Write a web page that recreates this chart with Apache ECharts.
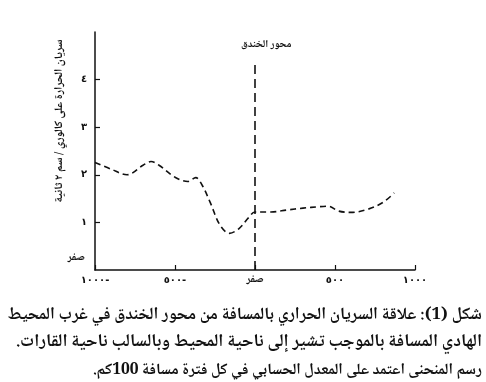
<!DOCTYPE html>
<html>
<head>
<meta charset="utf-8">
<script src="https://cdn.jsdelivr.net/npm/echarts@6/dist/echarts.min.js"></script>
<style>
html,body{margin:0;padding:0;background:#fff;}
#c{width:486px;height:382px;direction:rtl;}
</style>
</head>
<body>
<div id="c"></div>
<script>
// distance from trench axis (km) and heat flow values
const distances = [-1000, -900, -800, -700, -650, -600, -500, -420, -370, -330, -280, -220, -160, -100, -40, 0, 100, 200, 300, 400, 460, 520, 600, 700, 800, 870];
const heatFlow  = [2.26, 2.12, 2.0, 2.2, 2.28, 2.2, 1.95, 1.86, 1.94, 1.78, 1.42, 0.95, 0.77, 0.87, 1.1, 1.22, 1.22, 1.26, 1.30, 1.33, 1.34, 1.24, 1.21, 1.27, 1.42, 1.62];
const xTicks = [-1000, -500, 0, 500, 1000];
const xTickLabels = ['-١٠٠٠', '-٥٠٠', 'صفر', '٥٠٠', '١٠٠٠'];
const yTicks = [0, 1, 2, 3, 4];
const yTickLabels = ['صفر', '١', '٢', '٣', '٤'];
const trenchX = [0, 0];
const trenchY = [0, 4.37];
const trenchLabel = 'محور الخندق';
const yTitle = 'سريان الحرارة على كالوري / سم ٢ ثانية';
const captionLines = [
  'شكل (1): علاقة السريان الحراري بالمسافة من محور الخندق في غرب المحيط',
  'الهادي المسافة بالموجب تشير إلى ناحية المحيط وبالسالب ناحية القارات.',
  'رسم المنحنى اعتمد على المعدل الحسابي في كل فترة مسافة 100كم.'
];

const chart = echarts.init(document.getElementById('c'), null, {renderer: 'canvas'});
const font = 'DejaVu Sans';
const capFont = '"Noto Naskh Arabic", "Noto Sans Arabic", "DejaVu Sans"';
const capSizes = [17.0, 17.8, 15.7];
chart.setOption({
  animation: false,
  backgroundColor: '#fff',
  grid: {left: 95, right: 71, top: 32, bottom: 112},
  xAxis: {
    type: 'value', min: -1000, max: 1000, interval: 500,
    axisLine: {onZero: false, lineStyle: {color: '#111', width: 1.5}},
    axisTick: {inside: true, length: 5, lineStyle: {color: '#111', width: 1.2}, customValues: xTicks},
    axisLabel: {customValues: xTicks, color: '#111', fontFamily: font, fontSize: 10, fontWeight: 'bold', margin: 5,
      formatter: v => v === 0 ? '{z|' + xTickLabels[2] + '}' : xTickLabels[xTicks.indexOf(v)],
      rich: {z: {fontFamily: capFont, fontSize: 11, fontWeight: 'bold', color: '#111'}}},
    splitLine: {show: false}
  },
  yAxis: {
    type: 'value', min: 0, max: 5,
    axisLine: {show: true, onZero: false, lineStyle: {color: '#111', width: 1.5}},
    axisTick: {show: true, inside: true, length: 5, lineStyle: {color: '#111', width: 1.2}, customValues: [1,2,3,4]},
    axisLabel: {customValues: yTicks, color: '#111', fontFamily: font, fontSize: 10, fontWeight: 'bold', margin: 8,
      formatter: v => v === 0 ? '{z|' + yTickLabels[0] + '}' : yTickLabels[yTicks.indexOf(v)],
      rich: {z: {fontFamily: capFont, fontSize: 11, fontWeight: 'bold', color: '#111', padding: [0, 2, 22, 0]}}},
    splitLine: {show: false}
  },
  series: [
    {
      type: 'line', smooth: 0.35, symbol: 'none',
      data: distances.map((d, i) => [d, heatFlow[i]]),
      lineStyle: {color: '#111', width: 1.6, type: [6, 4]}
    },
    {
      type: 'line', symbol: 'none',
      data: trenchX.map((d, i) => [d, trenchY[i]]),
      lineStyle: {color: '#111', width: 1.6, type: [9, 5]},
      endLabel: {show: true, formatter: trenchLabel, color: '#111', fontFamily: capFont, fontSize: 10.5, fontWeight: 'bold', offset: [-22, -16]}
    }
  ],
  graphic: [
    {type: 'text', x: 61, y: 121, rotation: Math.PI / 2,
      style: {text: yTitle, font: 'bold 11.5px ' + capFont, fill: '#111', align: 'center', verticalAlign: 'middle'}},
    ...captionLines.map((t, i) => ({type: 'text', x: 482, y: 316.5 + i * 27.5,
      style: {text: t, font: 'bold ' + capSizes[i] + 'px ' + capFont, fill: '#111', align: 'right', verticalAlign: 'middle'}}))
  ]
});
</script>
</body>
</html>
